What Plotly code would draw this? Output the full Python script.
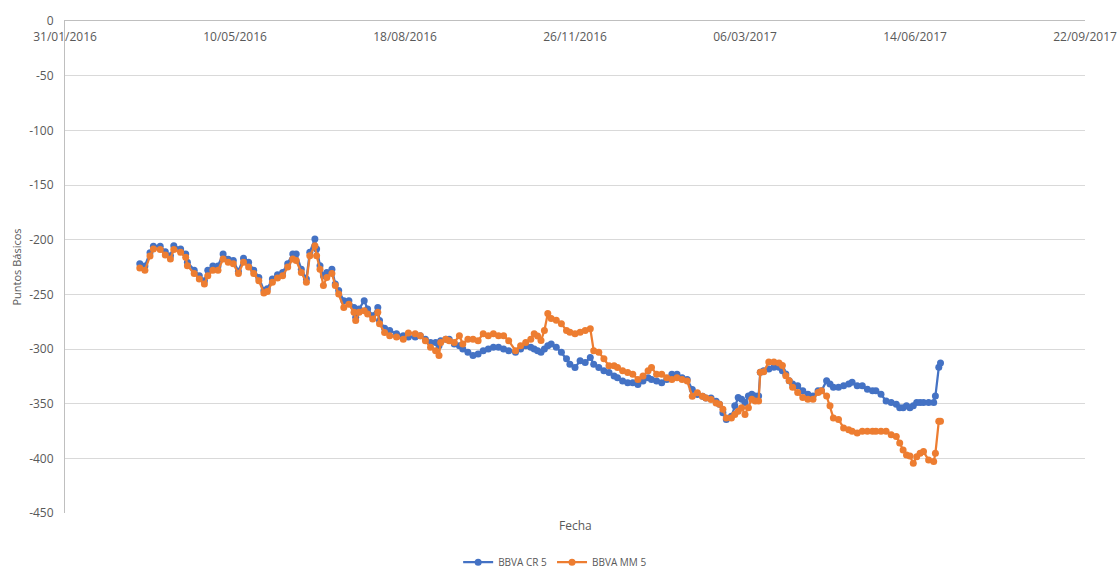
import plotly.graph_objects as go

# Fechas (observaciones)
fechas = [
    "2016-03-15", "2016-03-18", "2016-03-21", "2016-03-23", "2016-03-27", "2016-03-30",
    "2016-04-02", "2016-04-04", "2016-04-08", "2016-04-11", "2016-04-12", "2016-04-16",
    "2016-04-19", "2016-04-22", "2016-04-24", "2016-04-27", "2016-04-30", "2016-05-03",
    "2016-05-06", "2016-05-09", "2016-05-12", "2016-05-15", "2016-05-18", "2016-05-21",
    "2016-05-24", "2016-05-27", "2016-05-29", "2016-06-01", "2016-06-04", "2016-06-07",
    "2016-06-10", "2016-06-13", "2016-06-15", "2016-06-18", "2016-06-21", "2016-06-23",
    "2016-06-26", "2016-06-27", "2016-06-29", "2016-07-01", "2016-07-03", "2016-07-06",
    "2016-07-08", "2016-07-10", "2016-07-13", "2016-07-16", "2016-07-19", "2016-07-20",
    "2016-07-22", "2016-07-25", "2016-07-27", "2016-07-30", "2016-08-02", "2016-08-03",
    "2016-08-06", "2016-08-09", "2016-08-13", "2016-08-17", "2016-08-20", "2016-08-24",
    "2016-08-27", "2016-08-30", "2016-09-02", "2016-09-05", "2016-09-07", "2016-09-08",
    "2016-09-11", "2016-09-13", "2016-09-16", "2016-09-19", "2016-09-21", "2016-09-24",
    "2016-09-27", "2016-09-30", "2016-10-03", "2016-10-06", "2016-10-09", "2016-10-12",
    "2016-10-15", "2016-10-18", "2016-10-22", "2016-10-25", "2016-10-28", "2016-10-31",
    "2016-11-02", "2016-11-04", "2016-11-06", "2016-11-08", "2016-11-10", "2016-11-12",
    "2016-11-15", "2016-11-18", "2016-11-21", "2016-11-23", "2016-11-26", "2016-11-29",
    "2016-12-02", "2016-12-05", "2016-12-07", "2016-12-10", "2016-12-13", "2016-12-16",
    "2016-12-19", "2016-12-21", "2016-12-24", "2016-12-27", "2016-12-30", "2017-01-02",
    "2017-01-05", "2017-01-08", "2017-01-10", "2017-01-13", "2017-01-16", "2017-01-19",
    "2017-01-22", "2017-01-25", "2017-01-28", "2017-01-31", "2017-02-03", "2017-02-06",
    "2017-02-09", "2017-02-11", "2017-02-14", "2017-02-17", "2017-02-19", "2017-02-21",
    "2017-02-23", "2017-02-26", "2017-02-28", "2017-03-02", "2017-03-04", "2017-03-06",
    "2017-03-08", "2017-03-10", "2017-03-12", "2017-03-14", "2017-03-15", "2017-03-17",
    "2017-03-20", "2017-03-23", "2017-03-26", "2017-03-28", "2017-03-30", "2017-04-01",
    "2017-04-03", "2017-04-06", "2017-04-09", "2017-04-12", "2017-04-15", "2017-04-18",
    "2017-04-20", "2017-04-23", "2017-04-25", "2017-04-27", "2017-04-30", "2017-05-03",
    "2017-05-06", "2017-05-08", "2017-05-11", "2017-05-14", "2017-05-17", "2017-05-20",
    "2017-05-22", "2017-05-25", "2017-05-28", "2017-05-31", "2017-06-03", "2017-06-05",
    "2017-06-07", "2017-06-09", "2017-06-11", "2017-06-13", "2017-06-15", "2017-06-17",
    "2017-06-19", "2017-06-22", "2017-06-25", "2017-06-26", "2017-06-28", "2017-06-29",
]

bbva_cr5 = [
    -222, -224, -212, -206, -206, -211,
    -214.6, -205.5, -208.5, -213, -220.7, -228,
    -233, -237.5, -228, -224, -224, -213,
    -218, -219, -229, -217, -220.7, -228,
    -234.5, -246.6, -245, -236, -232, -230,
    -222, -213, -213, -227, -236, -211.6,
    -199.4, -208.5, -223.8, -233, -230, -227,
    -240.5, -246.6, -255.8, -255.8, -262, -271,
    -263.4, -255.8, -263.4, -269.5, -262, -274,
    -281, -283, -286, -287.8, -289, -289,
    -287.8, -291, -294, -294, -297, -292.4,
    -291, -291, -295.4, -297, -300, -303,
    -306, -304.6, -301.5, -300, -298.5, -298.5,
    -300, -301.5, -303, -300, -297, -298.5,
    -300, -301.5, -303, -300, -297, -295.4,
    -298.5, -303, -309, -314, -317, -310.8,
    -312.3, -307.7, -314, -317, -320, -321.6,
    -324.7, -326.2, -329.3, -330.9, -330.9, -332.4,
    -329.3, -326.2, -327.8, -329.3, -330.9, -327.8,
    -323, -323, -326.2, -327.8, -337, -341.7,
    -343.2, -344.8, -344.8, -347.8, -350.6, -358.3,
    -364.5, -361.4, -352, -344.4, -346, -349,
    -343, -341.4, -343, -343, -321.3, -319.8,
    -318.2, -316.7, -316.7, -319.8, -322.8, -329,
    -332, -333.6, -338.3, -341.4, -343, -338.3,
    -338.3, -329, -332, -335, -335, -333.6,
    -332, -330.4, -333.6, -333.6, -336.7, -338.3,
    -338.3, -341.4, -347.5, -349, -350.6, -353.7,
    -353.7, -352, -353.7, -352, -349, -349,
    -349, -349, -349, -343, -316.7, -312.7,
]

bbva_mm5 = [
    -226, -228, -215, -208.5, -209, -214,
    -217.7, -209, -211.6, -216, -223.8, -231,
    -236, -240.5, -233, -228, -228, -217.7,
    -220.7, -222, -231, -220.7, -225, -231,
    -237.5, -248.8, -247.5, -239, -235, -233,
    -225, -217.7, -219, -230, -239, -214.6,
    -205.5, -214.6, -227, -242, -234.5, -231,
    -242, -249.7, -262, -259, -266.5, -274,
    -266.5, -265, -268, -272.6, -266.5, -277,
    -284.8, -287.8, -289, -291, -285.4, -286,
    -287.8, -292.4, -298.5, -301.5, -306, -294,
    -291, -292.4, -294, -287.8, -295.4, -291,
    -291, -292.4, -286, -287.8, -286, -287.8,
    -287.8, -292.4, -301.5, -297, -294, -291,
    -286, -288, -292.3, -283, -267.6, -272.2,
    -273.8, -277, -283, -284.6, -286, -284.6,
    -283, -281.5, -301.5, -303, -309, -315.4,
    -315.4, -317, -320, -321.6, -323, -327.8,
    -324.7, -320, -317, -323, -323, -326.2,
    -327.8, -326.2, -327.8, -329.3, -343.2, -340,
    -343.2, -344.8, -346.3, -349.4, -350.6, -355,
    -363, -363, -360, -357, -353.7, -360,
    -353.7, -346, -347.5, -347.5, -321.3, -320.7,
    -312, -312, -312.7, -315, -324.4, -329,
    -335, -339.8, -344.4, -346, -346, -339.8,
    -338.3, -343, -352, -363, -364.5, -372.2,
    -373.8, -375.3, -376.9, -375.3, -375.3, -375.3,
    -375.3, -375.3, -375.3, -378.4, -380, -386,
    -392.3, -397, -397.8, -404.6, -398.5, -395.4,
    -393.8, -401.5, -403, -395.4, -366, -366,
]

tick_fechas = ["2016-01-31", "2016-05-10", "2016-08-18", "2016-11-26",
               "2017-03-06", "2017-06-14", "2017-09-22"]
tick_textos = ["31/01/2016", "10/05/2016", "18/08/2016", "26/11/2016",
               "06/03/2017", "14/06/2017", "22/09/2017"]
y_ticks = [0, -50, -100, -150, -200, -250, -300, -350, -400, -450]
y_textos = ["0", "-50", "-100", "-150", "-200", "-250", "-300", "-350", "-400", "-450"]

BLUE = "#4472C4"
ORANGE = "#ED7D31"
GREY_TXT = "#595959"
FONT = "Open Sans"

fig = go.Figure()
fig.add_trace(go.Scatter(
    x=fechas, y=bbva_cr5, name="BBVA CR 5", mode="lines+markers",
    line=dict(color=BLUE, width=2.25), marker=dict(color=BLUE, size=7),
))
fig.add_trace(go.Scatter(
    x=fechas, y=bbva_mm5, name="BBVA MM 5", mode="lines+markers",
    line=dict(color=ORANGE, width=2.25), marker=dict(color=ORANGE, size=7),
))

fig.update_layout(
    width=1117, height=569,
    margin=dict(l=65, r=32, t=21, b=56),
    paper_bgcolor="white", plot_bgcolor="white",
    font=dict(family=FONT, size=11, color=GREY_TXT),
    showlegend=True,
    legend=dict(orientation="h", xref="container", x=0.497, xanchor="center",
                yref="container", y=0.012, yanchor="middle",
                font=dict(size=10, color=GREY_TXT), itemwidth=30),
    xaxis=dict(
        type="date", side="top", automargin=False,
        range=[tick_fechas[0], tick_fechas[-1]],
        tickvals=tick_fechas, ticktext=tick_textos,
        ticklabelposition="inside", ticklabeloverflow="allow",
        ticklabelstandoff=11,
        showgrid=False, showline=True, linecolor="#bfbfbf", linewidth=1,
        ticks="", zeroline=False,
        tickfont=dict(family=FONT, size=12, color=GREY_TXT),
    ),
    yaxis=dict(
        range=[-450, 0], tickvals=y_ticks, ticktext=y_textos, automargin=False,
        showgrid=True, gridcolor="#d9d9d9", gridwidth=1,
        showline=True, linecolor="#bfbfbf", linewidth=1,
        zeroline=False, ticks="outside", ticklen=8, tickcolor="rgba(0,0,0,0)",
        tickfont=dict(family=FONT, size=12, color=GREY_TXT),
        title=dict(text="Puntos Básicos", font=dict(family=FONT, size=11, color=GREY_TXT),
                   standoff=5),
    ),
    annotations=[dict(
        text="Fecha", xref="paper", yref="paper", x=0.5, y=-0.005,
        xanchor="center", yanchor="top", showarrow=False,
        font=dict(family=FONT, size=12, color=GREY_TXT),
    )],
)

fig.write_html("out.html")
